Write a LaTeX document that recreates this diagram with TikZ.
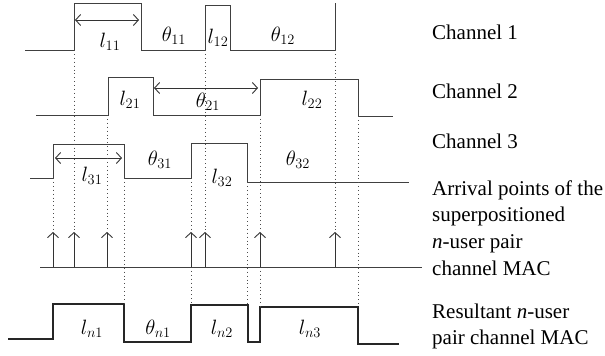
\documentclass[tikz,border=0pt]{standalone}
\usepackage{amsmath}
\usepackage{fontspec}
\setmainfont{Liberation Serif}
\usetikzlibrary{arrows.meta}

\begin{document}
\begin{tikzpicture}[x=1pt, y=-1pt,
  >={Straight Barb[length=5pt,width=11pt]},
  wave/.style={black!75, line width=1pt},
  result/.style={black!85, line width=1.8pt},
  guide/.style={black!70, line width=0.9pt, dash pattern=on 0.9pt off 3pt},
  marker/.style={black!80, line width=0.9pt},
  lbl/.style={inner sep=0pt, font=\fontsize{20}{24}\selectfont},
  side/.style={align=left, inner sep=0pt, font=\fontsize{21}{26.7}\selectfont}]
\useasboundingbox (0,0) rectangle (605,356);

% the three channels
\draw[wave] (25,50) -| (74,3) -| (141,50) -| (205,5) -| (230,50) -| (335,3);
\draw[wave] (36,115) -| (108,77) -| (153,115) -| (260,79) -| (358,116) -- (393,116);
\draw[wave] (30,178) -| (53,144) -| (124,178) -| (191,143) -| (247,182) -- (409,182);

% resultant MAC
\draw[result] (8,339) -| (53,304) -| (124,342) -| (191,305) -| (248,342) -| (260,307) -| (358,344) -- (399,344);

% widths
\draw[marker, <->] (75,20) -- (139,20);
\draw[marker, <->] (154,88) -- (258,88);
\draw[marker, <->] (55,158) -- (122,158);

% dotted guides
\foreach \x/\ya/\yb in {74/50/232, 107/115/232, 205/50/232, 260/115/232, 335/50/232,
  53/178/232, 191/178/232, 124/178/304, 247/182/305, 358/116/307, 260/267/307, 191/267/305}
  \draw[guide] (\x,\ya) -- (\x,\yb);

% arrival points
\draw[wave] (40,267) -- (422,267);
\foreach \x [count=\i] in {53,74,107,191,205,260,335} {
  \coordinate (base\i) at (\x,267);
  \coordinate (tip\i) at (\x,232);
  \draw[marker, ->] (base\i) -- (tip\i);
}

% labels
\node[lbl] (l11) at (110,42) {$l_{11}$};
\node[lbl] (t11) at (174,36) {$\theta_{11}$};
\node[lbl] (l12) at (218,38) {$l_{12}$};
\node[lbl] (t12) at (283,36) {$\theta_{12}$};
\node[lbl] (l21) at (130,100) {$l_{21}$};
\node[lbl] (t21) at (208,102) {$\theta_{21}$};
\node[lbl] (l22) at (312,100) {$l_{22}$};
\node[lbl] (l31) at (92,176) {$l_{31}$};
\node[lbl] (t31) at (160,160) {$\theta_{31}$};
\node[lbl] (l32) at (222,178) {$l_{32}$};
\node[lbl] (t32) at (298,160) {$\theta_{32}$};
\node[lbl] (ln1) at (92,329) {$l_{n1}$};
\node[lbl] (tn1) at (158,329) {$\theta_{n1}$};
\node[lbl] (ln2) at (222,329) {$l_{n2}$};
\node[lbl] (ln3) at (310,329) {$l_{n3}$};

% right-hand captions
\node[side, anchor=base west] (ch1) at (432,39.3) {Channel 1};
\node[side, anchor=base west] (ch2) at (432,98.7) {Channel 2};
\node[side, anchor=base west] (ch3) at (432,148.3) {Channel 3};
\node[side, anchor=west] (arr) at (432,228) {Arrival points of the\\superpositioned\\\textit{n}-user pair\\channel MAC};
\node[side, anchor=west, font=\fontsize{21}{26}\selectfont] (res) at (432,326) {Resultant \textit{n}-user\\pair channel MAC};
\end{tikzpicture}
\end{document}
